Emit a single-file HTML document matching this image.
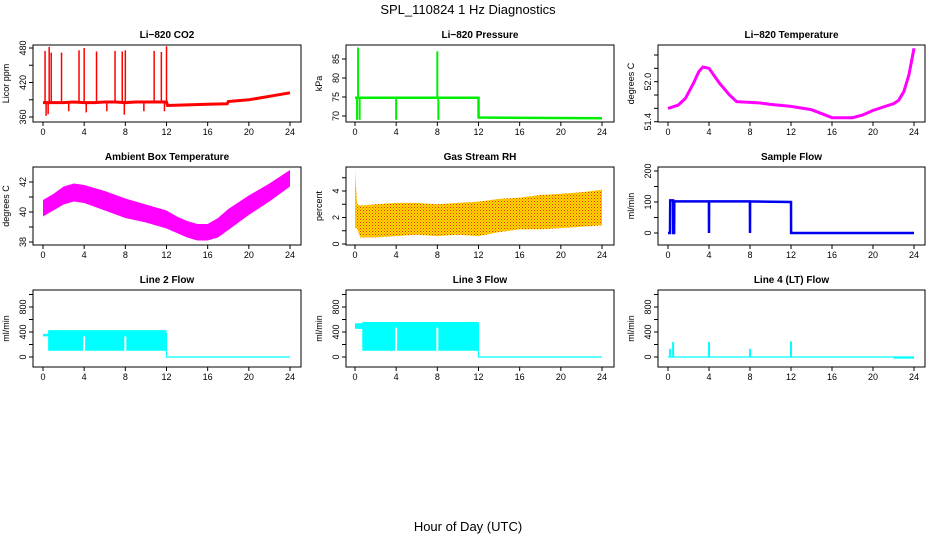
<!DOCTYPE html>
<html><head><meta charset="utf-8"><style>
body{margin:0;background:#fff;width:936px;height:540px;overflow:hidden}
svg text{font-family:"Liberation Sans",sans-serif}
</style></head><body>
<svg id="c" width="936" height="540">
<defs>
<pattern id="rhpat" width="3" height="3" patternUnits="userSpaceOnUse">
<rect width="3" height="3" fill="#ffd800"/><rect width="1" height="1" fill="#f03000"/><rect x="1.5" y="1.5" width="1" height="1" fill="#f06000"/>
</pattern>
</defs>
<text x="468" y="14" text-anchor="middle" font-size="13">SPL_110824  1 Hz Diagnostics</text>
<text x="468" y="531" text-anchor="middle" font-size="13">Hour of Day (UTC)</text>
</svg>
<script>
// ---- data ----
const xTicks=[0,4,8,12,16,20,24];
const co2Hours=[0,1,2,3,4,5,6,7,8,9,10,11,12,12.1,14,16,17.9,18,20,22,24];
const co2Vals=[385,385,385,386,385,385,386,386,385,386,386,386,386,380,381,382,383,387,390,396,402];
const co2SpikeHours=[0.2,0.6,0.8,1.8,3.5,4,5.2,7,7.7,8,10.8,11.5,12];
const co2SpikeVals=[475,482,472,472,476,480,474,475,474,476,475,473,483];
const co2DipHours=[0.3,0.5,2.5,4.2,6.2,7.9,9.8,11.8];
const co2DipVals=[362,365,370,368,370,364,370,370];
const co2Ticks=[360,390,420,450,480];
const co2Labels=["360","","420","","480"];
const presHours=[0,0.6,0.61,4,4.01,8,8.01,12,12.01,24];
const presVals=[74.8,74.8,74.8,74.8,74.8,74.8,74.8,74.8,69.6,69.4];
const presSpikeHours=[0.2,0.3,0.45,4,8,8.1];
const presSpikeVals=[69,88,69,69,87,69];
const presTicks=[70,75,80,85];
const tempHours=[0,1,1.7,2.5,3,3.4,4,5,6,6.7,8,9,10,12,14,15,16,18,19,20,21,22,22.5,23,23.5,24];
const tempVals=[51.6,51.65,51.75,51.98,52.15,52.22,52.2,51.98,51.8,51.7,51.69,51.68,51.66,51.63,51.58,51.52,51.46,51.46,51.5,51.57,51.62,51.67,51.72,51.85,52.1,52.5];
const tempTicks=[51.4,51.6,51.8,52.0,52.2,52.4];
const tempLabels=["51.4","","","52.0","",""];
const ambHours=[0,1,2,3,4,6,8,10,12,13,14,15,16,17,18,20,22,24];
const ambLow=[39.7,40.1,40.5,40.7,40.6,40.1,39.6,39.3,38.9,38.6,38.3,38.1,38.1,38.3,38.8,39.8,40.7,41.7];
const ambHigh=[40.8,41.2,41.7,41.9,41.8,41.4,40.9,40.5,40.1,39.7,39.4,39.2,39.2,39.6,40.2,41.1,41.9,42.8];
const ambTicks=[38,39,40,41,42];
const ambLabels=["38","","40","","42"];
const rhHours=[0,0.2,0.5,2,4,6,8,10,12,14,16,18,20,22,24];
const rhLow=[1.2,1.2,0.5,0.5,0.6,0.7,0.6,0.7,0.6,0.9,1.1,1.1,1.2,1.3,1.4];
const rhHigh=[5.6,3.0,2.9,3.0,3.1,3.1,3.0,3.1,3.2,3.4,3.5,3.7,3.8,3.9,4.1];
const rhTicks=[0,1,2,3,4,5];
const rhLabels=["0","","2","","4",""];
const sfHours=[0,0.2,0.21,0.5,0.51,0.6,0.61,3.99,4,4.01,7.99,8,8.01,12,12.01,24];
const sfVals=[0,0,105,105,0,0,102,102,0,102,102,0,102,100,0,0];
const sfTicks=[0,50,100,150,200];
const sfLabels=["0","","100","","200"];
const flowTicks=[0,200,400,600,800,1000];
const flowLabels=["0","","400","","800",""];
const l2Hours=[0,0.5,0.51,12];
const l2Low=[330,330,100,100];
const l2High=[370,370,430,430];
const l3Hours=[0,0.7,0.71,12];
const l3Low=[450,450,100,100];
const l3High=[540,540,560,560];
const flowGapHours=[4,8];
const l4SpikeHours=[0.2,0.5,4,8,12];
const l4SpikeVals=[130,240,240,130,250];

// ---- layout ----
const NS="http://www.w3.org/2000/svg";
const svg=document.getElementById('c');
function el(tag,attrs,parent){const e=document.createElementNS(NS,tag);for(const k in attrs)e.setAttribute(k,attrs[k]);(parent||svg).appendChild(e);return e;}
const cols=[{x0:33,x1:301,h0:43,h1:290},{x0:346,x1:614,h0:355,h1:602},{x0:658,x1:925,h0:668,h1:914}];
const rows=[{y0:45,y1:122,title:34},{y0:167,y1:245,title:156},{y0:290,y1:367,title:279}];
function panel(ci,ri,name,title,ylab,ymin,ymax,yv0,yv1,ticks,labels){
  const c=cols[ci],r=rows[ri];
  const g=el('g',{});
  
  
  const X=h=>c.h0+(c.h1-c.h0)*h/24;
  const Y=v=>ymin+(ymax-ymin)*(v-yv0)/(yv1-yv0);
  const t=el('text',{x:(c.x0+c.x1)/2,y:r.title+4,'text-anchor':'middle','font-size':'10','font-weight':'bold'},g);t.textContent=title;
  
  
  const b=el('rect',{x:c.x0,y:r.y0,width:c.x1-c.x0,height:r.y1-r.y0,fill:'none',stroke:'#000','stroke-width':1},g);
  
  
  const xa=el('g',{},g);
  
  
  el('line',{x1:X(0),x2:X(24),y1:r.y1,y2:r.y1,stroke:'#000'},xa);
  xTicks.forEach(h=>{el('line',{x1:X(h),x2:X(h),y1:r.y1,y2:r.y1+4,stroke:'#000'},xa);
    const tt=el('text',{x:X(h),y:r.y1+13,'text-anchor':'middle','font-size':'9'},xa);tt.textContent=h;});
  const ya=el('g',{},g);
  
  
  ticks.forEach((v,i)=>{const y=Y(v);el('line',{x1:c.x0-4,x2:c.x0,y1:y,y2:y,stroke:'#000'},ya);
    const lab=labels?labels[i]:String(v);
    if(lab){const tt=el('text',{x:c.x0-7,y:y,'text-anchor':'middle','font-size':'9',transform:`rotate(-90 ${c.x0-7} ${y})`},ya);tt.textContent=lab;}});
  const yl=el('text',{x:c.x0-24,y:(r.y0+r.y1)/2,'text-anchor':'middle','font-size':'9',transform:`rotate(-90 ${c.x0-24} ${(r.y0+r.y1)/2})`},g);yl.textContent=ylab;
  
  
  return {g,X,Y};
}
function line(p,hs,vs,color,w,name){const d=hs.map((h,i)=>(i?'L':'M')+p.X(h).toFixed(1)+' '+p.Y(vs[i]).toFixed(1)).join('');
  const e=el('path',{d,fill:'none',stroke:color,'stroke-width':w},p.g);
  
  return e;}
function band(p,hs,lo,hi,color,name,op){const up=hs.map((h,i)=>(i?'L':'M')+p.X(h).toFixed(1)+' '+p.Y(hi[i]).toFixed(1)).join('');
  const dn=hs.slice().reverse().map((h,j)=>{const i=hs.length-1-j;return 'L'+p.X(h).toFixed(1)+' '+p.Y(lo[i]).toFixed(1);}).join('');
  const e=el('path',{d:up+dn+'Z',fill:color,stroke:'none','fill-opacity':op||1},p.g);
  
  return e;}
function spikes(p,hs,vs,base,color,w,name){hs.forEach((h,i)=>{const e=el('line',{x1:p.X(h),x2:p.X(h),y1:p.Y(base(h)),y2:p.Y(vs[i]),stroke:color,'stroke-width':w},p.g);
  
  });}
function interp(hs,vs,h){for(let i=1;i<hs.length;i++){if(h<=hs[i]){const t=(h-hs[i-1])/(hs[i]-hs[i-1]||1);return vs[i-1]+t*(vs[i]-vs[i-1]);}}return vs[vs.length-1];}

// CO2
let p=panel(0,0,'co2','Li−820 CO2','Licor ppm',117,48,360,480,co2Ticks,co2Labels);
line(p,co2Hours,co2Vals,'#f00',3,'co2-line');
spikes(p,co2SpikeHours,co2SpikeVals,h=>interp(co2Hours,co2Vals,h),'#f00',1.5,'co2-spike');
spikes(p,co2DipHours,co2DipVals,h=>interp(co2Hours,co2Vals,h),'#f00',1.5,'co2-dip');
// Pressure
p=panel(1,0,'pressure','Li−820 Pressure','kPa',116,59,70,85,presTicks);
line(p,presHours,presVals,'#00ee00',2.5,'pressure-line');
spikes(p,presSpikeHours,presSpikeVals,h=>interp(presHours,presVals,h),'#00ee00',2,'pressure-spike');
// Li-820 temperature
p=panel(2,0,'li820-temp','Li−820 Temperature','degrees C',121.7,55,51.4,52.4,tempTicks,tempLabels);
line(p,tempHours,tempVals,'#f0f',3,'li820-temp-line');
// Ambient
p=panel(0,1,'ambient-temp','Ambient Box Temperature','degrees C',242,182,38,42,ambTicks,ambLabels);
band(p,ambHours,ambLow,ambHigh,'#f0f','ambient-temp-band');
// RH
p=panel(1,1,'rh','Gas Stream RH','percent',244,191,0,4,rhTicks,rhLabels);
band(p,rhHours,rhLow,rhHigh,'url(#rhpat)','rh-band');
// Sample flow
p=panel(2,1,'sample-flow','Sample Flow','ml/min',233,171,0,200,sfTicks,sfLabels);
line(p,sfHours,sfVals,'#0000f0',2.5,'sample-flow-line');
// Line 2
p=panel(0,2,'line2-flow','Line 2 Flow','ml/min',357,307,0,800,flowTicks,flowLabels);
band(p,l2Hours,l2Low,l2High,'#0ff','line2-band');
flowGapHours.forEach(h=>{const e=el('line',{x1:p.X(h),x2:p.X(h),y1:p.Y(90),y2:p.Y(330),stroke:'#fff','stroke-width':2},p.g);});
line(p,[12,12,24],[380,0,0],'#0ff',1.2,'line2-baseline');
// Line 3
p=panel(1,2,'line3-flow','Line 3 Flow','ml/min',357,307,0,800,flowTicks,flowLabels);
band(p,l3Hours,l3Low,l3High,'#0ff','line3-band');
flowGapHours.forEach(h=>{const e=el('line',{x1:p.X(h),x2:p.X(h),y1:p.Y(90),y2:p.Y(470),stroke:'#fff','stroke-width':2},p.g);});
line(p,[12,12,24],[540,0,0],'#0ff',1.2,'line3-baseline');
// Line 4
p=panel(2,2,'line4-flow','Line 4 (LT) Flow','ml/min',357,307,0,800,flowTicks,flowLabels);
line(p,[0,24],[0,0],'#0ff',1.2,'line4-baseline');
line(p,[22,24],[-15,-15],'#0ff',1.5,'line4-tail');
spikes(p,l4SpikeHours,l4SpikeVals,h=>0,'#0ff',2,'line4-spike');
</script>
</body></html>
